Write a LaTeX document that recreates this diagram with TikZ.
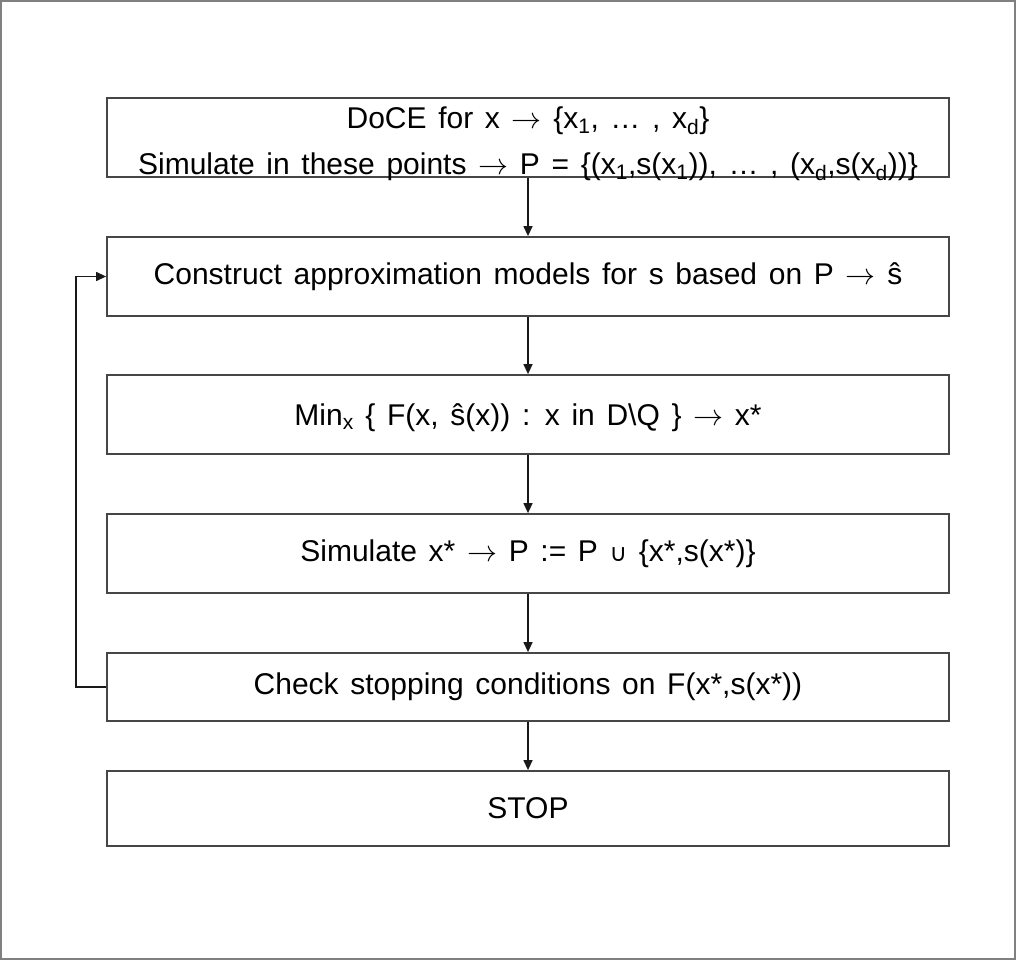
\documentclass[tikz,border=0pt]{standalone}
\usepackage{graphicx}
\usepackage{fontspec}
\setmainfont[WordSpace=1.4]{Liberation Sans}
\newfontfamily\dvs{DejaVu Sans}
\usetikzlibrary{arrows.meta}
\definecolor{boxgray}{RGB}{70,70,70}
\definecolor{framegray}{RGB}{128,128,128}
\newcommand{\ar}{{\fontsize{10}{12}\selectfont\scalebox{3}{$\rightarrow$}}}
\begin{document}
\begin{tikzpicture}[x=1pt,y=-1pt,
  box/.style={draw=boxgray, line width=1.8pt, minimum width=842pt, minimum height=79pt,
    inner sep=0pt, font=\fontsize{30}{46}\selectfont, align=center},
  conn/.style={draw=black!90, line width=1.3pt, -{Triangle[length=10pt,width=9pt]}}]
\useasboundingbox (0,0) rectangle (1017,961);
\draw[framegray, line width=1.5pt] (1,1) rectangle (1015,959);
\node[box] (b1) at (528,137.5) {\raisebox{9.5pt}[0pt][0pt]{\begin{tabular}[t]{@{}c@{}}DoCE for x \ar{} \{x\textsubscript{1}, … , x\textsubscript{d}\}\\Simulate in these points \ar{} P = \{(x\textsubscript{1},s(x\textsubscript{1})), … , (x\textsubscript{d},s(x\textsubscript{d}))\}\end{tabular}}};
\node[box] (b2) at (528,276.5) {Construct approximation models for s based on P \ar{} ŝ};
\node[box] (b3) at (528,414.5) {\rule{0pt}{28pt}Min\textsubscript{x} \{ F(x, ŝ(x)) : x in D\textbackslash Q \} \ar{} x*};
\node[box] (b4) at (528,553.5) {Simulate x* \ar{} P := P {\dvs\fontsize{24}{24}\selectfont ∪} \{x*,s(x*)\}};
\node[box, minimum height=68pt] (b5) at (528,687) {Check stopping conditions on F(x*,s(x*))};
\node[box, minimum height=75pt] (b6) at (528,808.5) {STOP};
\coordinate (lp) at (76,687);
\draw[conn] (b1.south) -- (b2.north);
\draw[conn] (b2.south) -- (b3.north);
\draw[conn] (b3.south) -- (b4.north);
\draw[conn] (b4.south) -- (b5.north);
\draw[conn] (b5.south) -- (b6.north);
\draw[conn] (b5.west) -- (lp) |- (b2.west);
\end{tikzpicture}
\end{document}
